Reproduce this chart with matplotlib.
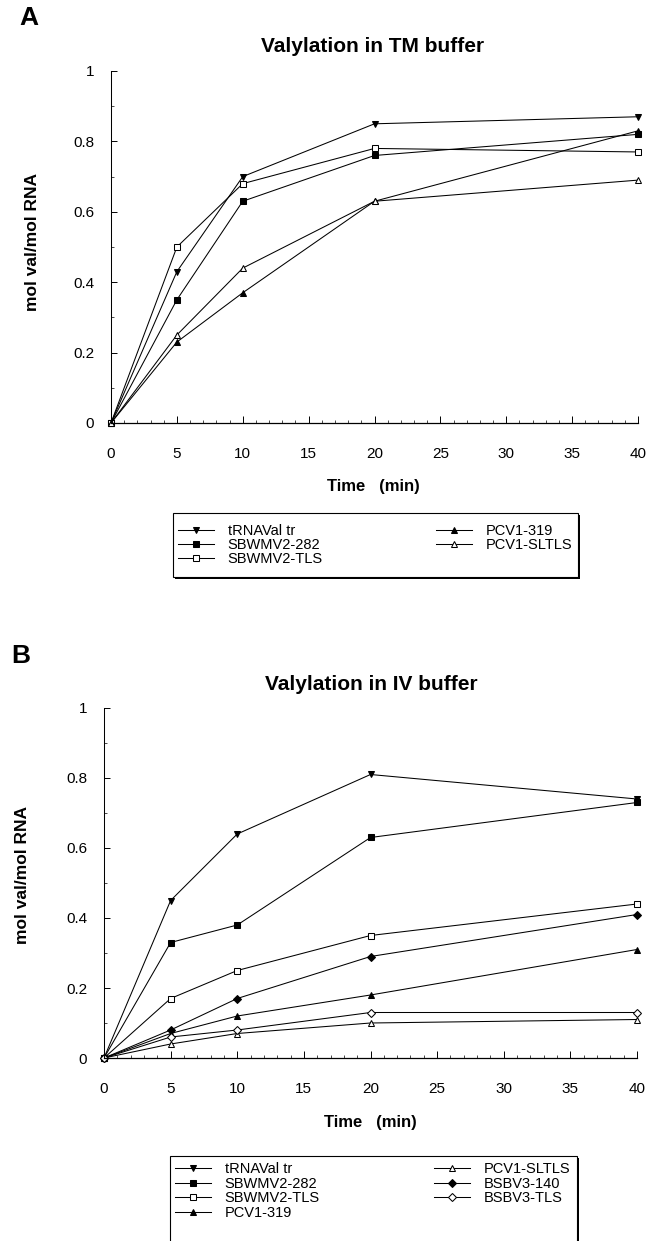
import numpy as np
import matplotlib
matplotlib.use('Agg')
import matplotlib.pyplot as plt
from matplotlib.ticker import MultipleLocator
from matplotlib.patches import Rectangle

plt.rcParams['font.family'] = ['Liberation Sans', 'DejaVu Sans']

# time points (min)
time = [0, 5, 10, 20, 40]

# panel A - TM buffer
tm_trnaval = [0, 0.43, 0.70, 0.85, 0.87]
tm_sbwmv2_282 = [0, 0.35, 0.63, 0.76, 0.82]
tm_sbwmv2_tls = [0, 0.50, 0.68, 0.78, 0.77]
tm_pcv1_319 = [0, 0.23, 0.37, 0.63, 0.83]
tm_pcv1_sltls = [0, 0.25, 0.44, 0.63, 0.69]

# panel B - IV buffer
iv_trnaval = [0, 0.45, 0.64, 0.81, 0.74]
iv_sbwmv2_282 = [0, 0.33, 0.38, 0.63, 0.73]
iv_sbwmv2_tls = [0, 0.17, 0.25, 0.35, 0.44]
iv_pcv1_319 = [0, 0.07, 0.12, 0.18, 0.31]
iv_pcv1_sltls = [0, 0.04, 0.07, 0.10, 0.11]
iv_bsbv3_140 = [0, 0.08, 0.17, 0.29, 0.41]
iv_bsbv3_tls = [0, 0.06, 0.08, 0.13, 0.13]

yticks = [0, 0.2, 0.4, 0.6, 0.8, 1.0]
ytick_labels = ['0', '0.2', '0.4', '0.6', '0.8', '1']

styles = {
    'tRNAVal tr': dict(marker='v', mfc='k'),
    'SBWMV2-282': dict(marker='s', mfc='k'),
    'SBWMV2-TLS': dict(marker='s', mfc='w'),
    'PCV1-319': dict(marker='^', mfc='k'),
    'PCV1-SLTLS': dict(marker='^', mfc='w'),
    'BSBV3-140': dict(marker='D', mfc='k', ms=3.8),
    'BSBV3-TLS': dict(marker='D', mfc='w', ms=3.8),
}

W, H = 648, 1241


def px(x, y):
    # pixel position (from top-left) -> figure fraction
    return x / W, 1 - y / H


def draw_panel(ax, series):
    for name, vals in series:
        st = dict(ms=5)
        st.update(styles[name])
        ax.plot(time, vals, color='k', lw=0.75, mec='k', mew=0.75,
                clip_on=False, label=name, **st)
    ax.set_xlim(0, 40)
    ax.set_ylim(0, 1)
    ax.patch.set_visible(False)
    ax.spines['top'].set_visible(False)
    ax.spines['right'].set_visible(False)
    ax.spines['left'].set_linewidth(0.75)
    ax.spines['bottom'].set_linewidth(0.9)
    ax.xaxis.set_major_locator(MultipleLocator(5))
    ax.xaxis.set_minor_locator(MultipleLocator(1))
    ax.yaxis.set_minor_locator(MultipleLocator(0.1))
    ax.set_yticks(yticks)
    ax.set_yticklabels(ytick_labels)
    ax.tick_params(axis='x', which='major', direction='in', length=5,
                   width=0.7, pad=17.5, labelsize=11)
    ax.tick_params(axis='x', which='minor', direction='in', length=2.5, width=0.5)
    ax.tick_params(axis='y', which='major', direction='in', length=4,
                   width=0.7, pad=12, labelsize=11)
    ax.tick_params(axis='y', which='minor', direction='in', length=2.5, width=0.5)


def draw_legend(series, x0, x1, ytop, labelspacing, box):
    handles = []
    for name, vals in series:
        st = dict(ms=5)
        st.update(styles[name])
        h, = plt.plot([], [], color='k', lw=0.75, mec='k', mew=0.75, **st)
        handles.append(h)
    labels = [s[0] for s in series]
    fx0, fy = px(x0, ytop)
    fx1, _ = px(x1, ytop)
    fig.legend(handles, labels, ncol=2, mode='expand', loc='upper left',
               bbox_to_anchor=(fx0, fy - 0.001, fx1 - fx0, 0.001),
               fontsize=10.5, frameon=False, handlelength=2.5,
               handletextpad=0.9, borderaxespad=0, borderpad=0,
               labelspacing=labelspacing)
    bx0, by0, bx1, by1 = box
    # shadow then frame
    fig.add_artist(Rectangle(px(bx0 + 2, by1 + 2), (bx1 - bx0) / W,
                             (by1 - by0) / H, transform=fig.transFigure,
                             fc='k', ec='k', lw=0, zorder=1))
    fig.add_artist(Rectangle(px(bx0, by1), (bx1 - bx0) / W, (by1 - by0) / H,
                             transform=fig.transFigure, fc='w', ec='k',
                             lw=0.8, zorder=2))


fig = plt.figure(figsize=(W / 100, H / 100), dpi=100)

# ---- panel A
axA = fig.add_axes([111 / W, 1 - 423 / H, 527 / W, 352 / H])
seriesA = [('tRNAVal tr', tm_trnaval), ('SBWMV2-282', tm_sbwmv2_282),
           ('SBWMV2-TLS', tm_sbwmv2_tls), ('PCV1-319', tm_pcv1_319),
           ('PCV1-SLTLS', tm_pcv1_sltls)]
draw_panel(axA, seriesA)
fig.text(*px(373, 47), 'Valylation in TM buffer', fontsize=15,
         fontweight='bold', ha='center', va='center')
fig.text(*px(373, 486), 'Time   (min)', fontsize=12, fontweight='bold',
         ha='center', va='center')
fig.text(*px(33, 242), 'mol val/mol RNA', fontsize=12.5, fontweight='bold',
         ha='center', va='center', rotation=90)
fig.text(*px(29, 18), 'A', fontsize=19, fontweight='bold',
         ha='center', va='center')
draw_legend(seriesA, 178, 572, 524, 0.0, (173, 513, 578, 577))

# ---- panel B
axB = fig.add_axes([104 / W, 1 - 1058 / H, 533 / W, 350 / H])
seriesB = [('tRNAVal tr', iv_trnaval), ('SBWMV2-282', iv_sbwmv2_282),
           ('SBWMV2-TLS', iv_sbwmv2_tls), ('PCV1-319', iv_pcv1_319),
           ('PCV1-SLTLS', iv_pcv1_sltls), ('BSBV3-140', iv_bsbv3_140),
           ('BSBV3-TLS', iv_bsbv3_tls)]
draw_panel(axB, seriesB)
fig.text(*px(371, 685), 'Valylation in IV buffer', fontsize=15,
         fontweight='bold', ha='center', va='center')
fig.text(*px(370, 1123), 'Time   (min)', fontsize=12, fontweight='bold',
         ha='center', va='center')
fig.text(*px(23, 875), 'mol val/mol RNA', fontsize=12.5, fontweight='bold',
         ha='center', va='center', rotation=90)
fig.text(*px(21, 656), 'B', fontsize=19, fontweight='bold',
         ha='center', va='center')
draw_legend(seriesB, 175, 570, 1162, 0.05, (170, 1156, 577, 1260))

fig.savefig('out.png', dpi=100)
